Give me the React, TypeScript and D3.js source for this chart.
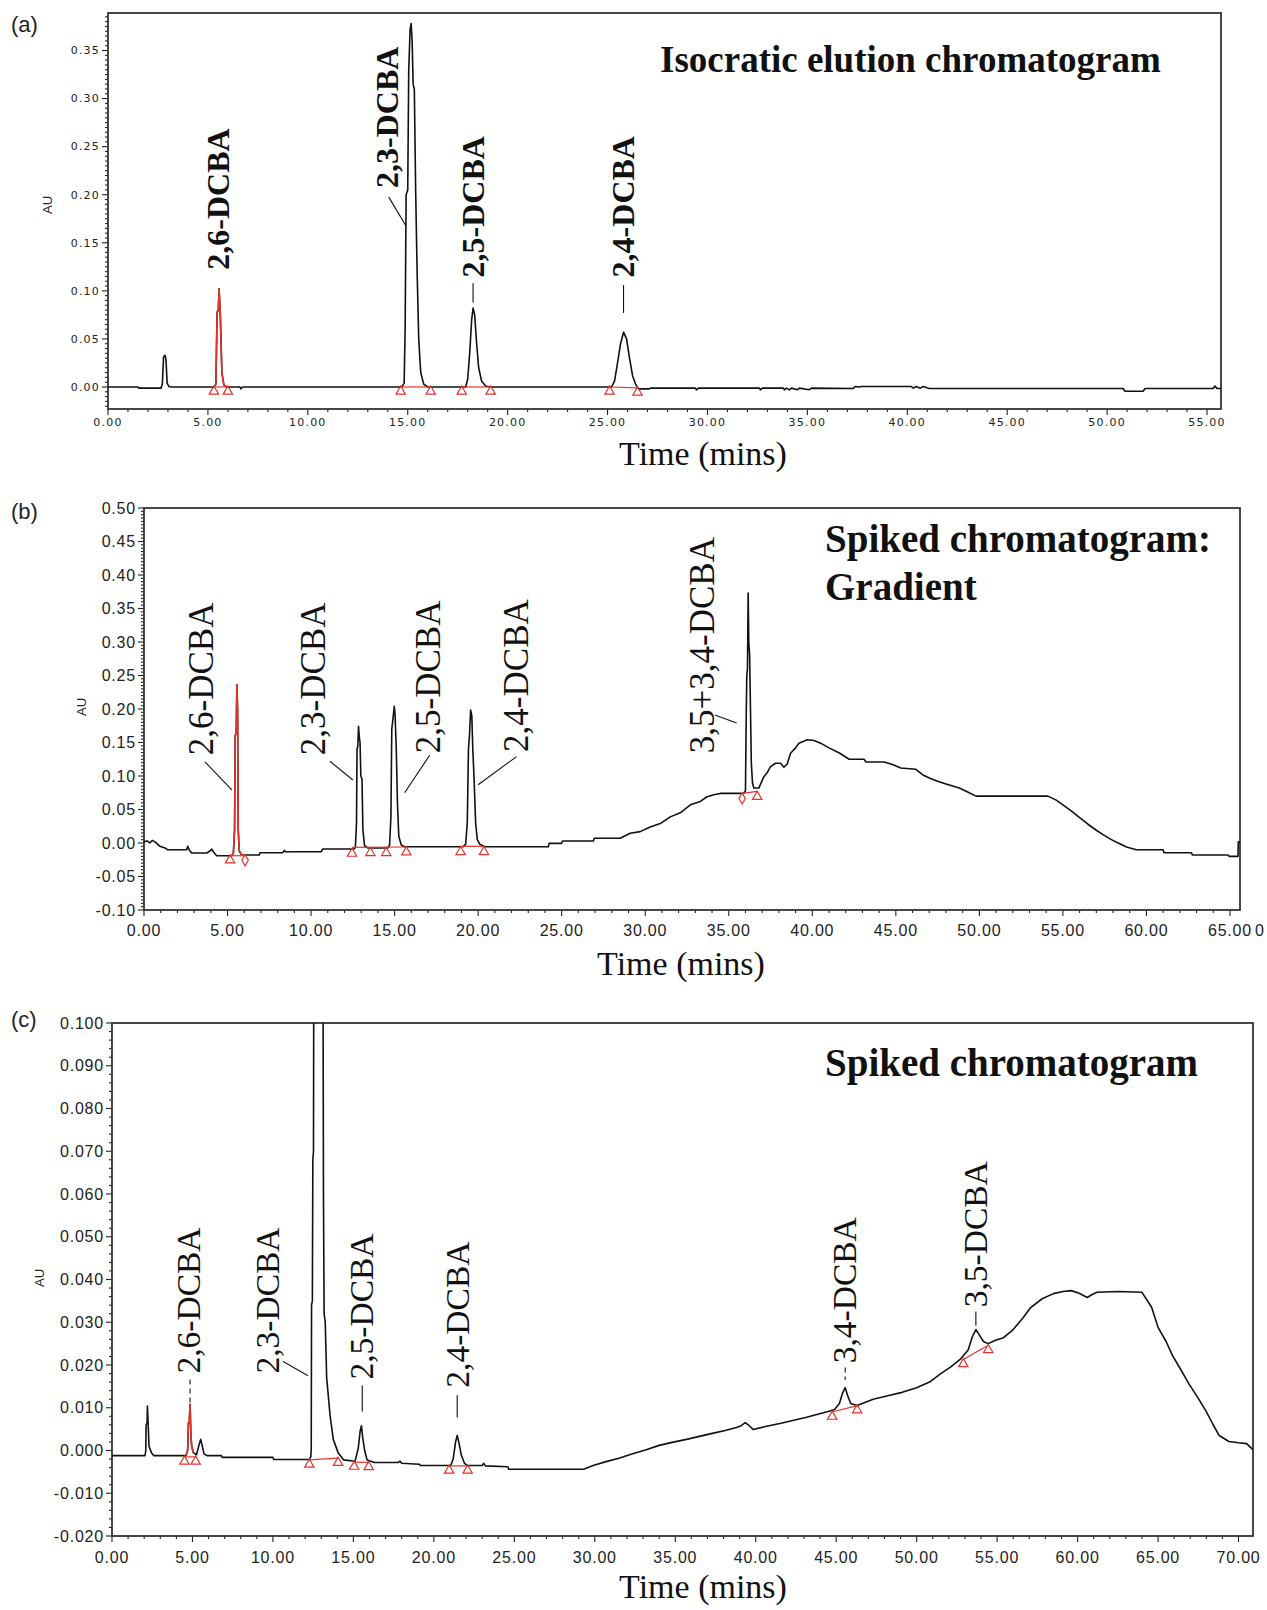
import * as d3 from "d3";

type Pt = [number, number];
type Mark = [number, number, number?]; // t, AU, 1 = diamond
type Base = [number, number, number, number];
type Label = { text: string; t: number; v: number; lead?: Base; dashed?: boolean };

// ---------- (a) isocratic elution ----------
const A_XTICKS = [0, 5, 10, 15, 20, 25, 30, 35, 40, 45, 50, 55];
const A_YTICKS = [0, 0.05, 0.1, 0.15, 0.2, 0.25, 0.3, 0.35];
const A_TRACE: Pt[] = [
  [0, 0], [1.5, 0], [1.55, -0.0012], [2.65, -0.0012], [2.72, 0.003], [2.78, 0.031], [2.85, 0.033],
  [2.9, 0.029], [2.96, 0.004], [3.05, 0.0005], [3.2, 0],
  [5.3, 0], [5.4, 0.003], [5.46, 0.078], [5.52, 0.08], [5.56, 0.102], [5.62, 0.075], [5.7, 0.015],
  [5.8, 0.002], [5.95, 0], [6.6, 0], [6.65, -0.002], [6.75, 0],
  [14.7, 0], [14.82, 0.004], [14.87, 0.06], [14.92, 0.2], [15.0, 0.205], [15.05, 0.33], [15.12, 0.372],
  [15.17, 0.378], [15.22, 0.36], [15.27, 0.315], [15.33, 0.31], [15.4, 0.2], [15.47, 0.12], [15.55, 0.05],
  [15.65, 0.015], [15.8, 0.003], [16.0, 0],
  [17.9, 0], [18.0, 0.008], [18.1, 0.035], [18.2, 0.07], [18.27, 0.082], [18.35, 0.075], [18.45, 0.045],
  [18.55, 0.02], [18.7, 0.006], [18.9, 0.001], [19.1, 0],
  [25.2, 0], [25.35, 0.006], [25.5, 0.025], [25.65, 0.045], [25.8, 0.057], [25.95, 0.05], [26.1, 0.03],
  [26.25, 0.012], [26.4, 0.003], [26.55, -0.002], [27.05, -0.002], [27.15, -0.0012],
  [29.4, -0.0012], [29.45, -0.003], [29.55, -0.0012], [32.6, -0.0012], [32.65, -0.003], [32.75, -0.0012],
  [33.8, -0.0012], [33.85, -0.003], [33.95, -0.0012], [34.1, -0.003], [34.2, -0.0012], [34.5, -0.0028],
  [34.6, -0.0012], [35.1, -0.0028], [35.2, -0.0012], [37.3, -0.0015], [37.4, 0.0005], [37.6, 0.0],
  [37.7, 0.0005], [40.2, 0.0005], [40.3, -0.0012], [40.45, 0.0005], [40.65, -0.0012], [40.8, 0.0005],
  [41.1, -0.0015], [50.8, -0.0015], [50.9, -0.0045], [51.8, -0.0045], [51.9, -0.0015], [55.3, -0.0015],
  [55.4, 0.001], [55.5, -0.0015], [55.7, -0.0015],
];
const A_RED: Pt = [5.3, 5.95];
const A_MARKS: Mark[] = [
  [5.3, 0], [6.0, 0], [14.65, 0], [16.15, 0], [17.7, 0], [19.15, 0], [25.1, 0], [26.5, -0.001],
];
const A_BASES: Base[] = [
  [5.3, 0, 6.0, 0], [14.65, 0, 16.15, 0], [17.7, 0, 19.15, 0], [25.1, 0, 26.5, -0.001],
];
const A_LABELS: Label[] = [
  { text: "2,6-DCBA", t: 5.55, v: 0.122 },
  { text: "2,3-DCBA", t: 14.0, v: 0.207, lead: [14.05, 0.1975, 14.9, 0.168] },
  { text: "2,5-DCBA", t: 18.27, v: 0.114, lead: [18.27, 0.108, 18.27, 0.088] },
  { text: "2,4-DCBA", t: 25.8, v: 0.114, lead: [25.8, 0.106, 25.8, 0.077] },
];
const A_TITLE = ["Isocratic elution chromatogram"];

// ---------- (b) spiked, gradient ----------
const B_XTICKS = [0, 5, 10, 15, 20, 25, 30, 35, 40, 45, 50, 55, 60, 65];
const B_YTICKS = [-0.1, -0.05, 0, 0.05, 0.1, 0.15, 0.2, 0.25, 0.3, 0.35, 0.4, 0.45, 0.5];
const B_TRACE: Pt[] = [
  [0, 0.002], [0.2, 0.003], [0.35, 0.0], [0.5, 0.004], [0.7, 0.001], [0.95, -0.005], [1.3, -0.008],
  [1.4, -0.01], [2.55, -0.01], [2.62, -0.005], [2.7, -0.01], [2.85, -0.015], [3.75, -0.015],
  [3.95, -0.012], [4.05, -0.009], [4.15, -0.013], [4.35, -0.019],
  [5.25, -0.019], [5.35, -0.015], [5.42, 0.02], [5.46, 0.16], [5.52, 0.165], [5.56, 0.236], [5.6, 0.2],
  [5.64, 0.02], [5.7, -0.012], [5.85, -0.018], [6.1, -0.018],
  [6.9, -0.018], [6.95, -0.0145], [8.3, -0.0145], [8.4, -0.011], [8.5, -0.0135], [8.75, -0.013],
  [10.6, -0.013], [10.7, -0.009], [12.55, -0.009], [12.65, -0.007], [12.72, 0.03], [12.75, 0.14],
  [12.8, 0.145], [12.84, 0.174], [12.88, 0.16], [12.93, 0.15], [12.98, 0.1], [13.05, 0.095], [13.1, 0.02],
  [13.2, -0.004], [13.4, -0.0075], [14.6, -0.0075], [14.7, -0.003], [14.78, 0.04], [14.83, 0.17],
  [14.9, 0.185], [14.98, 0.204], [15.03, 0.19], [15.1, 0.14], [15.17, 0.06], [15.25, 0.01], [15.4, -0.003],
  [15.6, -0.0055],
  [19.1, -0.0055], [19.25, -0.002], [19.35, 0.03], [19.42, 0.14], [19.48, 0.16], [19.55, 0.1985],
  [19.62, 0.19], [19.68, 0.14], [19.75, 0.1], [19.85, 0.03], [19.95, 0.005], [20.1, -0.002], [20.4, -0.0055],
  [24.2, -0.0055], [24.25, -0.0005], [25.0, -0.0005], [25.05, 0.003], [26.9, 0.003], [26.95, 0.007],
  [28.5, 0.007], [29.1, 0.0145], [29.7, 0.017], [30.3, 0.024], [30.9, 0.029], [31.5, 0.039], [32.1, 0.045],
  [32.7, 0.057], [33.3, 0.062], [33.7, 0.069], [34.1, 0.072], [34.5, 0.074], [35.9, 0.074], [36.0, 0.078],
  [36.05, 0.2], [36.08, 0.25], [36.12, 0.26], [36.16, 0.373], [36.2, 0.3], [36.25, 0.28], [36.3, 0.2],
  [36.35, 0.12], [36.42, 0.09], [36.5, 0.082], [36.8, 0.082], [37.1, 0.099], [37.3, 0.105], [37.5, 0.114],
  [37.8, 0.119], [38.1, 0.119], [38.3, 0.113], [38.5, 0.118], [38.7, 0.134], [39.0, 0.142], [39.2, 0.149],
  [39.7, 0.154], [40.1, 0.153], [40.5, 0.149], [41.0, 0.142], [41.65, 0.134], [42.2, 0.125], [43.1, 0.125],
  [43.2, 0.121], [44.3, 0.121], [44.8, 0.117], [45.3, 0.112], [46.2, 0.11], [46.6, 0.102], [47.0, 0.097],
  [47.5, 0.092], [48.0, 0.088], [48.8, 0.082], [49.3, 0.076], [49.8, 0.07], [54.1, 0.07], [54.6, 0.064],
  [55.0, 0.057], [55.5, 0.048], [56.0, 0.038], [56.5, 0.028], [57.0, 0.019], [57.5, 0.011], [57.9, 0.005],
  [58.4, -0.001], [58.8, -0.006], [59.4, -0.01], [61.0, -0.01], [61.05, -0.0145], [62.7, -0.0145],
  [62.75, -0.018], [64.9, -0.018], [64.95, -0.02], [65.48, -0.02], [65.5, 0.002], [65.58, 0.0],
];
const B_RED: Pt = [5.25, 6.1];
const B_MARKS: Mark[] = [
  [5.15, -0.019], [6.05, -0.019, 1], [12.45, -0.009], [13.55, -0.008], [14.5, -0.008], [15.7, -0.007],
  [18.95, -0.0065], [20.35, -0.0065], [35.8, 0.073, 1], [36.7, 0.076],
];
const B_BASES: Base[] = [
  [5.15, -0.019, 6.05, -0.019], [12.45, -0.0065, 15.7, -0.006], [18.95, -0.005, 20.35, -0.005],
  [35.8, 0.074, 36.7, 0.077],
];
const B_LABELS: Label[] = [
  { text: "2,6-DCBA", t: 3.44, v: 0.131, lead: [3.65, 0.121, 5.27, 0.079] },
  { text: "2,3-DCBA", t: 10.14, v: 0.131, lead: [11.13, 0.122, 12.5, 0.094] },
  { text: "2,5-DCBA", t: 17.0, v: 0.134, lead: [17.1, 0.131, 15.6, 0.075] },
  { text: "2,4-DCBA", t: 22.3, v: 0.136, lead: [22.3, 0.129, 20.0, 0.087] },
  { text: "3,5+3,4-DCBA", t: 33.4, v: 0.134, lead: [34.17, 0.191, 35.47, 0.179] },
];
const B_TITLE = ["Spiked chromatogram:", "Gradient"];

// ---------- (c) spiked ----------
const C_XTICKS = [0, 5, 10, 15, 20, 25, 30, 35, 40, 45, 50, 55, 60, 65, 70];
const C_YTICKS = [-0.02, -0.01, 0, 0.01, 0.02, 0.03, 0.04, 0.05, 0.06, 0.07, 0.08, 0.09, 0.1];
const C_TRACE: Pt[] = [
  [0, -0.0012], [2.05, -0.0012], [2.1, 0.0], [2.12, 0.006], [2.18, 0.0065], [2.2, 0.0104], [2.25, 0.006],
  [2.3, 0.001], [2.45, -0.0005], [2.6, -0.0012],
  [4.6, -0.0012], [4.7, 0.0], [4.75, 0.0065], [4.8, 0.0065], [4.85, 0.0108], [4.9, 0.004], [4.95, 0.001],
  [5.05, -0.0005], [5.25, -0.001], [5.4, 0.0012], [5.51, 0.0026], [5.6, 0.0012], [5.72, -0.0008],
  [5.9, -0.0012], [6.8, -0.0012], [6.85, -0.0016], [10.0, -0.0016], [10.05, -0.0021], [12.25, -0.0021],
  [12.35, -0.0015], [12.38, 0.0], [12.4, 0.034], [12.45, 0.035], [12.48, 0.068], [12.52, 0.07],
  [12.56, 0.16], [12.8, 0.32], [13.08, 0.17], [13.14, 0.06], [13.18, 0.032], [13.25, 0.03], [13.34, 0.017],
  [13.55, 0.0082], [13.75, 0.0026], [14.05, -0.0005], [14.4, -0.0022], [15.1, -0.0025], [15.3, 0.0005],
  [15.42, 0.0045], [15.5, 0.0058], [15.58, 0.003], [15.7, 0.0], [15.85, -0.0022], [16.3, -0.0028],
  [17.8, -0.0028], [17.9, -0.0025], [18.0, -0.003], [19.1, -0.0032], [19.15, -0.0035], [21.05, -0.0035],
  [21.2, -0.002], [21.35, 0.002], [21.45, 0.0035], [21.55, 0.002], [21.7, -0.001], [21.9, -0.003],
  [22.1, -0.0035], [23.0, -0.0035], [23.1, -0.003], [23.2, -0.0036], [24.6, -0.0038], [24.65, -0.0044],
  [29.3, -0.0044], [29.9, -0.0035], [30.7, -0.0026], [31.5, -0.0018], [32.4, -0.0007], [33.2, 0.0002],
  [34.0, 0.0012], [34.8, 0.0019], [35.7, 0.0026], [36.5, 0.0033], [37.3, 0.004], [38.1, 0.0047],
  [38.8, 0.0054], [39.1, 0.0058], [39.35, 0.0065], [39.6, 0.0058], [39.85, 0.0049], [40.6, 0.0056],
  [41.5, 0.0063], [42.3, 0.007], [43.1, 0.0077], [43.8, 0.0084], [44.5, 0.0091], [44.9, 0.0096],
  [45.2, 0.011], [45.4, 0.0135], [45.56, 0.0147], [45.7, 0.013], [45.9, 0.011], [46.3, 0.0105],
  [47.3, 0.012], [48.2, 0.0128], [49.1, 0.0136], [50.0, 0.0147], [50.8, 0.016], [51.5, 0.018],
  [52.1, 0.0195], [52.7, 0.0213], [53.2, 0.0235], [53.45, 0.0265], [53.68, 0.0283], [53.9, 0.027],
  [54.15, 0.0255], [54.45, 0.025], [54.9, 0.0258], [55.4, 0.0264], [56.0, 0.0283], [56.6, 0.031],
  [57.1, 0.0335], [57.8, 0.0355], [58.5, 0.0367], [59.1, 0.0372], [59.6, 0.0374], [60.1, 0.0368],
  [60.6, 0.0358], [60.9, 0.0365], [61.2, 0.037], [62.5, 0.0372], [64.0, 0.037], [64.6, 0.0335],
  [65.0, 0.0288], [65.5, 0.0255], [65.9, 0.0222], [66.4, 0.019], [66.9, 0.0157], [67.5, 0.0122],
  [68.0, 0.0091], [68.4, 0.0062], [68.8, 0.0035], [69.4, 0.0021], [70.0, 0.0018], [70.5, 0.0016],
  [70.9, 0.0002],
];
const C_RED: Pt = [4.6, 5.05];
const C_MARKS: Mark[] = [
  [4.5, -0.0015], [5.2, -0.0015], [12.26, -0.0022], [14.05, -0.0018], [15.05, -0.0027], [15.95, -0.0028],
  [20.95, -0.0036], [22.1, -0.0036], [44.75, 0.009], [46.3, 0.0105], [52.9, 0.0213], [54.45, 0.0246],
];
const C_BASES: Base[] = [
  [4.5, -0.0015, 5.2, -0.0015], [12.26, -0.0022, 14.05, -0.0018], [15.05, -0.0027, 15.95, -0.0028],
  [20.95, -0.0036, 22.1, -0.0036], [44.75, 0.009, 46.3, 0.0105], [52.9, 0.0213, 54.45, 0.0246],
];
const C_LABELS: Label[] = [
  { text: "2,6-DCBA", t: 4.8, v: 0.018, lead: [4.85, 0.0166, 4.85, 0.011], dashed: true },
  { text: "2,3-DCBA", t: 9.66, v: 0.018, lead: [10.63, 0.0208, 12.18, 0.0175] },
  { text: "2,5-DCBA", t: 15.55, v: 0.0166, lead: [15.55, 0.0152, 15.55, 0.0091] },
  { text: "2,4-DCBA", t: 21.5, v: 0.0147, lead: [21.45, 0.0129, 21.45, 0.0077] },
  { text: "3,4-DCBA", t: 45.56, v: 0.0204, lead: [45.56, 0.0194, 45.56, 0.0165], dashed: true },
  { text: "3,5-DCBA", t: 53.68, v: 0.0335, lead: [53.68, 0.0325, 53.68, 0.0292] },
];
const C_TITLE = ["Spiked chromatogram"];

const RED = "#e2332b";
const SERIF = "'Liberation Serif', 'Times New Roman', serif";
const SANS = "'Liberation Sans', Arial, sans-serif";

type Spec = {
  tag: string;
  tagY: number;
  box: { x0: number; x1: number; y0: number; y1: number };
  xDomain: [number, number];
  yDomain: [number, number];
  xTicks: number[];
  yTicks: number[];
  yMinorStep: number;
  yDigits: number;
  tick: { family: string; size: number; spacing: number; xBase: number };
  trace: Pt[];
  red: Pt;
  marks: Mark[];
  bases: Base[];
  labels: Label[];
  labelFont: { size: number; weight: string };
  title: string[];
  titleX: number;
  titleY: number;
  titleSize: number;
  timeX: number;
  timeY: number;
  au: [number, number];
  stray?: boolean;
};

const PANELS: Spec[] = [
  {
    tag: "(a)", tagY: 32,
    box: { x0: 108, x1: 1221, y0: 13, y1: 409 },
    xDomain: [0, 55.7], yDomain: [-0.0229, 0.389],
    xTicks: A_XTICKS, yTicks: A_YTICKS, yMinorStep: 0.005, yDigits: 2,
    tick: { family: "'DejaVu Sans', Verdana, sans-serif", size: 11, spacing: 1.2, xBase: 426 },
    trace: A_TRACE, red: A_RED, marks: A_MARKS, bases: A_BASES, labels: A_LABELS,
    labelFont: { size: 32, weight: "bold" },
    title: A_TITLE, titleX: 660, titleY: 72, titleSize: 37,
    timeX: 703, timeY: 465, au: [52, 205],
  },
  {
    tag: "(b)", tagY: 519,
    box: { x0: 144, x1: 1240, y0: 508, y1: 910 },
    xDomain: [0, 65.6], yDomain: [-0.1, 0.5],
    xTicks: B_XTICKS, yTicks: B_YTICKS, yMinorStep: 0.005, yDigits: 2,
    tick: { family: SANS, size: 16, spacing: 0.8, xBase: 936 },
    trace: B_TRACE, red: B_RED, marks: B_MARKS, bases: B_BASES, labels: B_LABELS,
    labelFont: { size: 35, weight: "normal" },
    title: B_TITLE, titleX: 825, titleY: 552, titleSize: 39,
    timeX: 681, timeY: 975, au: [86, 707], stray: true,
  },
  {
    tag: "(c)", tagY: 1027,
    box: { x0: 112, x1: 1253, y0: 1023, y1: 1536 },
    xDomain: [0, 70.9], yDomain: [-0.02, 0.1],
    xTicks: C_XTICKS, yTicks: C_YTICKS, yMinorStep: 0.002, yDigits: 3,
    tick: { family: SANS, size: 16, spacing: 0.8, xBase: 1563 },
    trace: C_TRACE, red: C_RED, marks: C_MARKS, bases: C_BASES, labels: C_LABELS,
    labelFont: { size: 33.5, weight: "normal" },
    title: C_TITLE, titleX: 825, titleY: 1076, titleSize: 39,
    timeX: 703, timeY: 1598, au: [44, 1278],
  },
];

function Panel({ p, idx }: { p: Spec; idx: number }) {
  const { box } = p;
  const x = d3.scaleLinear().domain(p.xDomain).range([box.x0, box.x1]);
  const y = d3.scaleLinear().domain(p.yDomain).range([box.y1, box.y0]);
  const line = d3.line<Pt>().x((d) => x(d[0])).y((d) => y(d[1]));
  const redPts = p.trace.filter((d) => d[0] >= p.red[0] && d[0] <= p.red[1]);
  const clipId = `clip-${idx}`;

  const xMinor = d3.range(Math.ceil(p.xDomain[0]), p.xDomain[1], 1).filter((t) => t % 5 !== 0);
  const yMinor = d3
    .range(Math.ceil(p.yDomain[0] / p.yMinorStep) * p.yMinorStep, p.yDomain[1], p.yMinorStep)
    .filter((v) => !p.yTicks.some((t) => Math.abs(t - v) < p.yMinorStep / 4));

  const tri = d3.symbol(d3.symbolTriangle, 38)() ?? "";
  const dia = d3.symbol(d3.symbolDiamond, 36)() ?? "";
  const tickStyle = {
    fontFamily: p.tick.family,
    fontSize: p.tick.size,
    letterSpacing: p.tick.spacing,
    fill: "#222",
  };

  return (
    <g>
      <text x={11} y={p.tagY} fontFamily={SANS} fontSize={22} fill="#222">
        {p.tag}
      </text>
      <defs>
        <clipPath id={clipId}>
          <rect x={box.x0} y={box.y0} width={box.x1 - box.x0} height={box.y1 - box.y0} />
        </clipPath>
      </defs>

      {/* axes ticks */}
      <g stroke="#222" strokeWidth={1.1}>
        {p.xTicks.map((t) => (
          <line key={`xt${t}`} x1={x(t)} x2={x(t)} y1={box.y1} y2={box.y1 + 6} />
        ))}
        {xMinor.map((t) => (
          <line key={`xm${t}`} x1={x(t)} x2={x(t)} y1={box.y1} y2={box.y1 + 3} />
        ))}
        {p.yTicks.map((v) => (
          <line key={`yt${v}`} x1={box.x0 - 6} x2={box.x0} y1={y(v)} y2={y(v)} />
        ))}
        {yMinor.map((v) => (
          <line key={`ym${v}`} x1={box.x0 - 3} x2={box.x0} y1={y(v)} y2={y(v)} />
        ))}
      </g>
      <g {...tickStyle}>
        {p.xTicks.map((t) => (
          <text key={`xl${t}`} x={x(t)} y={p.tick.xBase} textAnchor="middle">
            {t.toFixed(2)}
          </text>
        ))}
        {p.yTicks.map((v) => (
          <text key={`yl${v}`} x={box.x0 - 8} y={y(v)} dy="0.35em" textAnchor="end">
            {v.toFixed(p.yDigits)}
          </text>
        ))}
        {p.stray && (
          <text x={x(p.xDomain[1]) + 15} y={p.tick.xBase} letterSpacing={0}>
            0
          </text>
        )}
      </g>
      <rect
        x={box.x0}
        y={box.y0}
        width={box.x1 - box.x0}
        height={box.y1 - box.y0}
        fill="none"
        stroke="#333"
        strokeWidth={1.8}
      />

      {/* trace */}
      <g clipPath={`url(#${clipId})`} fill="none" strokeLinejoin="round">
        <path d={line(p.trace) ?? ""} stroke="#111" strokeWidth={1.6} />
        <path d={line(redPts) ?? ""} stroke={RED} strokeWidth={1.6} />
      </g>

      {/* integration baselines and markers */}
      <g stroke={RED} strokeWidth={1.2} fill="none">
        {p.bases.map((b, i) => (
          <line key={`b${i}`} x1={x(b[0])} y1={y(b[1])} x2={x(b[2])} y2={y(b[3])} />
        ))}
        {p.marks.map((m, i) => (
          <path
            key={`m${i}`}
            d={m[2] ? dia : tri}
            transform={`translate(${x(m[0])},${y(m[1]) + 4.5})`}
          />
        ))}
      </g>

      {/* peak labels */}
      <g stroke="#111" strokeWidth={1.1}>
        {p.labels
          .filter((l) => l.lead)
          .map((l, i) => (
            <line
              key={`ld${i}`}
              x1={x(l.lead![0])}
              y1={y(l.lead![1])}
              x2={x(l.lead![2])}
              y2={y(l.lead![3])}
              strokeDasharray={l.dashed ? "5 4" : undefined}
            />
          ))}
      </g>
      <g fontFamily={SERIF} fontSize={p.labelFont.size} fontWeight={p.labelFont.weight} fill="#111">
        {p.labels.map((l, i) => {
          const bx = x(l.t) + 0.33 * p.labelFont.size;
          const by = y(l.v);
          return (
            <text key={`lb${i}`} x={bx} y={by} transform={`rotate(-90 ${bx} ${by})`}>
              {l.text}
            </text>
          );
        })}
      </g>

      {/* title */}
      <g fontFamily={SERIF} fontWeight="bold" fontSize={p.titleSize} fill="#111">
        {p.title.map((s, i) => (
          <text key={s} x={p.titleX} y={p.titleY + i * 48}>
            {s}
          </text>
        ))}
      </g>

      <text x={p.timeX} y={p.timeY} textAnchor="middle" fontFamily={SERIF} fontSize={34} fill="#111">
        Time (mins)
      </text>
      <text
        x={p.au[0]}
        y={p.au[1]}
        transform={`rotate(-90 ${p.au[0]} ${p.au[1]})`}
        textAnchor="middle"
        fontFamily={SANS}
        fontSize={13}
        fill="#222"
      >
        AU
      </text>
    </g>
  );
}

export default function App() {
  return (
    <svg
      width={1267}
      height={1610}
      viewBox="0 0 1267 1610"
      style={{ position: "absolute", left: 0, top: 0, background: "#fff" }}
    >
      <rect width={1267} height={1610} fill="#fff" />
      {PANELS.map((p, i) => (
        <Panel key={p.tag} p={p} idx={i} />
      ))}
    </svg>
  );
}
